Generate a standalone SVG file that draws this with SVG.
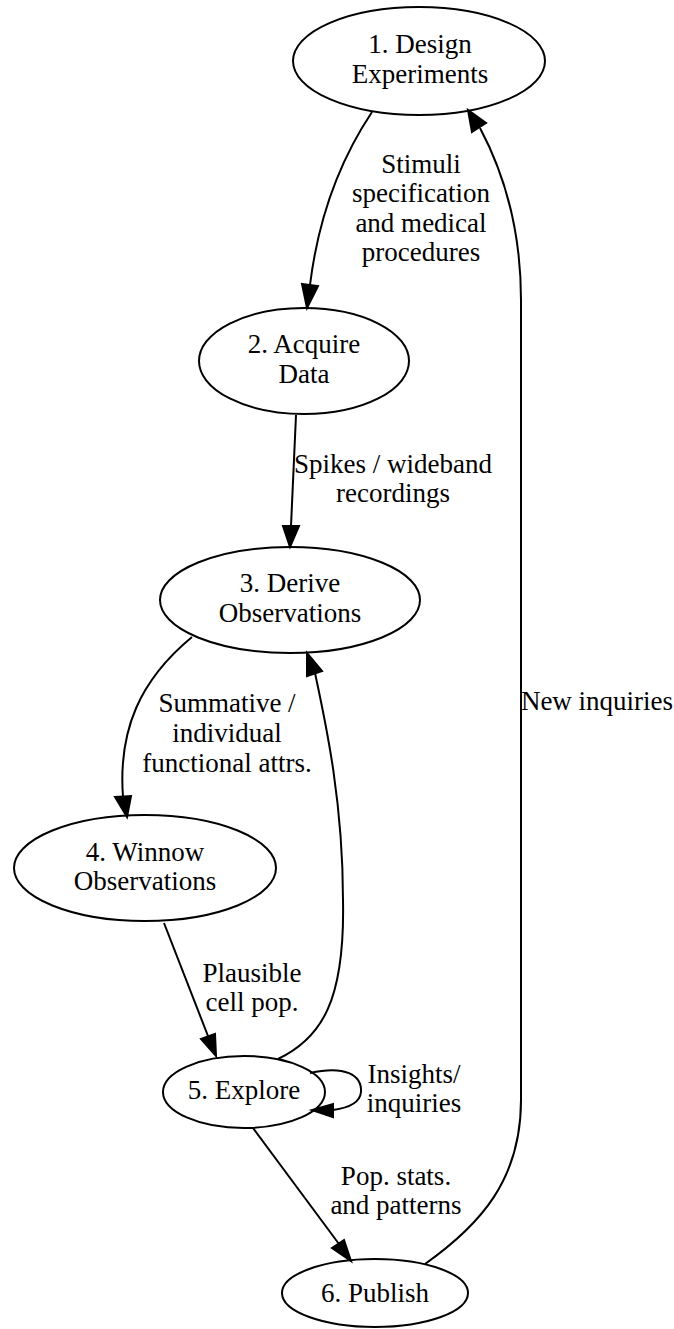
<svg xmlns="http://www.w3.org/2000/svg" width="674" height="1329" viewBox="0 0 674 1329">
<style>
.n ellipse{fill:none;stroke:#000;stroke-width:2}
text{font-family:"Liberation Serif","Times New Roman",serif;font-size:27px;fill:#000;text-anchor:middle}
.e path{fill:none;stroke:#000;stroke-width:2}
.e polygon{fill:#000;stroke:#000;stroke-width:2}
</style>
<rect width="674" height="1329" fill="#fff"/>
<g id="node1" class="n"><ellipse cx="419" cy="61" rx="126" ry="54"/><text x="420" y="53">1. Design</text><text x="420" y="83">Experiments</text></g>
<g id="node2" class="n"><ellipse cx="304" cy="361" rx="105" ry="53"/><text x="304" y="353">2. Acquire</text><text x="304" y="383">Data</text></g>
<g id="node3" class="n"><ellipse cx="290" cy="600" rx="130" ry="53"/><text x="290" y="592">3. Derive</text><text x="290" y="622">Observations</text></g>
<g id="node4" class="n"><ellipse cx="145" cy="868" rx="131" ry="53"/><text x="145" y="861">4. Winnow</text><text x="145" y="890">Observations</text></g>
<g id="node5" class="n"><ellipse cx="244" cy="1092" rx="81" ry="36"/><text x="244" y="1099">5. Explore</text></g>
<g id="node6" class="n"><ellipse cx="375" cy="1293" rx="93" ry="34"/><text x="375" y="1302">6. Publish</text></g>
<g id="edges" class="e">
<path d="M372,112 C340,160 318,220 310,285"/><polygon points="302,284 318,286 307,308"/>
<text x="421" y="173">Stimuli</text><text x="421" y="202">specification</text><text x="421" y="232">and medical</text><text x="421" y="261">procedures</text>
<path d="M296,415 L291,526"/><polygon points="283,526 299,526 290,547"/>
<text x="393" y="473">Spikes / wideband</text><text x="393" y="502">recordings</text>
<path d="M192,637 C140,680 118,730 123,797"/><polygon points="115,797 131,796 127,817"/>
<text x="227" y="712">Summative /</text><text x="227" y="742">individual</text><text x="227" y="772">functional attrs.</text>
<path d="M164,923 L208,1036"/><polygon points="215,1034 201,1039 216,1056"/>
<text x="252" y="982">Plausible</text><text x="252" y="1011">cell pop.</text>
<path d="M278,1059 C322,1038 345,1000 343,900 C343,800 325,720 315,673"/><polygon points="322,671 307,676 307,653"/>
<path d="M310,1073 C345,1065 362,1075 361,1092 C360,1103 348,1108 333,1110"/><polygon points="333,1104 333,1117 312,1110"/>
<text x="414" y="1083">Insights/</text><text x="414" y="1112">inquiries</text>
<path d="M253,1128 L339,1244"/><polygon points="344,1240 332,1248 351,1261"/>
<text x="396" y="1185">Pop. stats.</text><text x="396" y="1214">and patterns</text>
<path d="M425,1264 C480,1225 521,1180 521,1100 L521,300 C521,230 505,175 480,128"/><polygon points="472,132 486,123 468,110"/>
<text x="597" y="710">New inquiries</text>
</g>
</svg>
